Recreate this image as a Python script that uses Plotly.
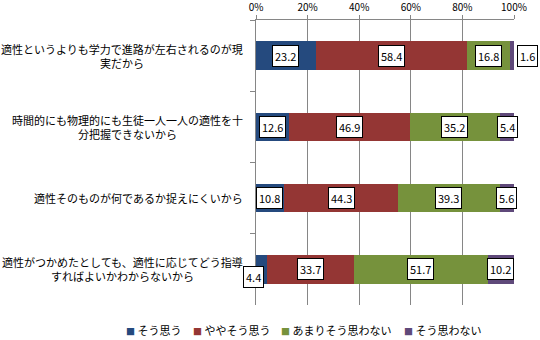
import plotly.graph_objects as go

categories = [
    "適性というよりも学力で進路が左右されるのが現<br>実だから",
    "時間的にも物理的にも生徒一人一人の適性を十<br>分把握できないから",
    "適性そのものが何であるか捉えにくいから",
    "適性がつかめたとしても、適性に応じてどう指導<br>すればよいかわからないから",
]
series_names = ["そう思う", "ややそう思う", "あまりそう思わない", "そう思わない"]
values = [
    [23.2, 12.6, 10.8, 4.4],
    [58.4, 46.9, 44.3, 33.7],
    [16.8, 35.2, 39.3, 51.7],
    [1.6, 5.4, 5.6, 10.2],
]
colors = ["#254A7E", "#943634", "#76923C", "#5F497A"]
x_ticks = [0, 20, 40, 60, 80, 100]
x_tick_labels = ["0%", "20%", "40%", "60%", "80%", "100%"]

font_family = "Noto Sans CJK JP"
fig = go.Figure()
for name, vals, col in zip(series_names, values, colors):
    fig.add_trace(go.Bar(
        y=categories, x=vals, name=name, orientation="h",
        marker=dict(color=col, line=dict(width=0)), showlegend=False,
    ))

annotations = []
for ci, cat in enumerate(categories):
    cum = 0.0
    for si in range(len(series_names)):
        v = values[si][ci]
        mid = cum + v / 2
        ann = dict(x=mid, y=cat, xref="x", yref="y", text=f"{v:.1f}", showarrow=False,
                   font=dict(size=11, color="#000000", family=font_family),
                   bgcolor="#FFFFFF", bordercolor="#000000", borderwidth=1, borderpad=2)
        if si == 3 and v < 3:
            ann.update(x=cum + v, xanchor="left", xshift=3)
        elif si == 0 and v < 6:
            ann.update(x=cum + v / 2, xshift=-8, yshift=-8)
        annotations.append(ann)
        cum += v
    annotations.append(dict(x=0, y=cat, xref="paper", yref="y", text=cat, showarrow=False,
                            xanchor="right", align="center", xshift=-11,
                            font=dict(size=11, color="#000000", family=font_family)))

# legend drawn as annotation entries (key square + series name)
legend_x = [-0.512, -0.252, 0.089, 0.566]
for name, col, lx in zip(series_names, colors, legend_x):
    annotations.append(dict(
        x=lx, y=-0.088, xref="paper", yref="paper", xanchor="left", yanchor="middle",
        showarrow=False,
        text=f'<span style="color:{col};font-size:9px">■</span> {name}',
        font=dict(size=11, color="#000000", family=font_family)))

fig.update_layout(
    width=540, height=340,
    margin=dict(l=256, r=26, t=20, b=35, autoexpand=False),
    barmode="stack", bargap=0.6,
    plot_bgcolor="#FFFFFF", paper_bgcolor="#FFFFFF",
    font=dict(family=font_family, size=11, color="#000000"),
    showlegend=False,
    annotations=annotations,
    xaxis=dict(side="top", range=[0, 100], tickvals=x_ticks, ticktext=x_tick_labels,
               showgrid=True, gridcolor="#868686", gridwidth=1,
               showline=True, linecolor="#868686", ticks="outside", ticklen=4,
               tickcolor="#868686", tickfont=dict(size=10), zeroline=False, fixedrange=True),
    yaxis=dict(autorange="reversed", showticklabels=False, showline=True,
               linecolor="#868686", ticks="outside", ticklen=5, tickcolor="#868686",
               tickson="boundaries", showgrid=False),
)
fig.write_html("out.html")
